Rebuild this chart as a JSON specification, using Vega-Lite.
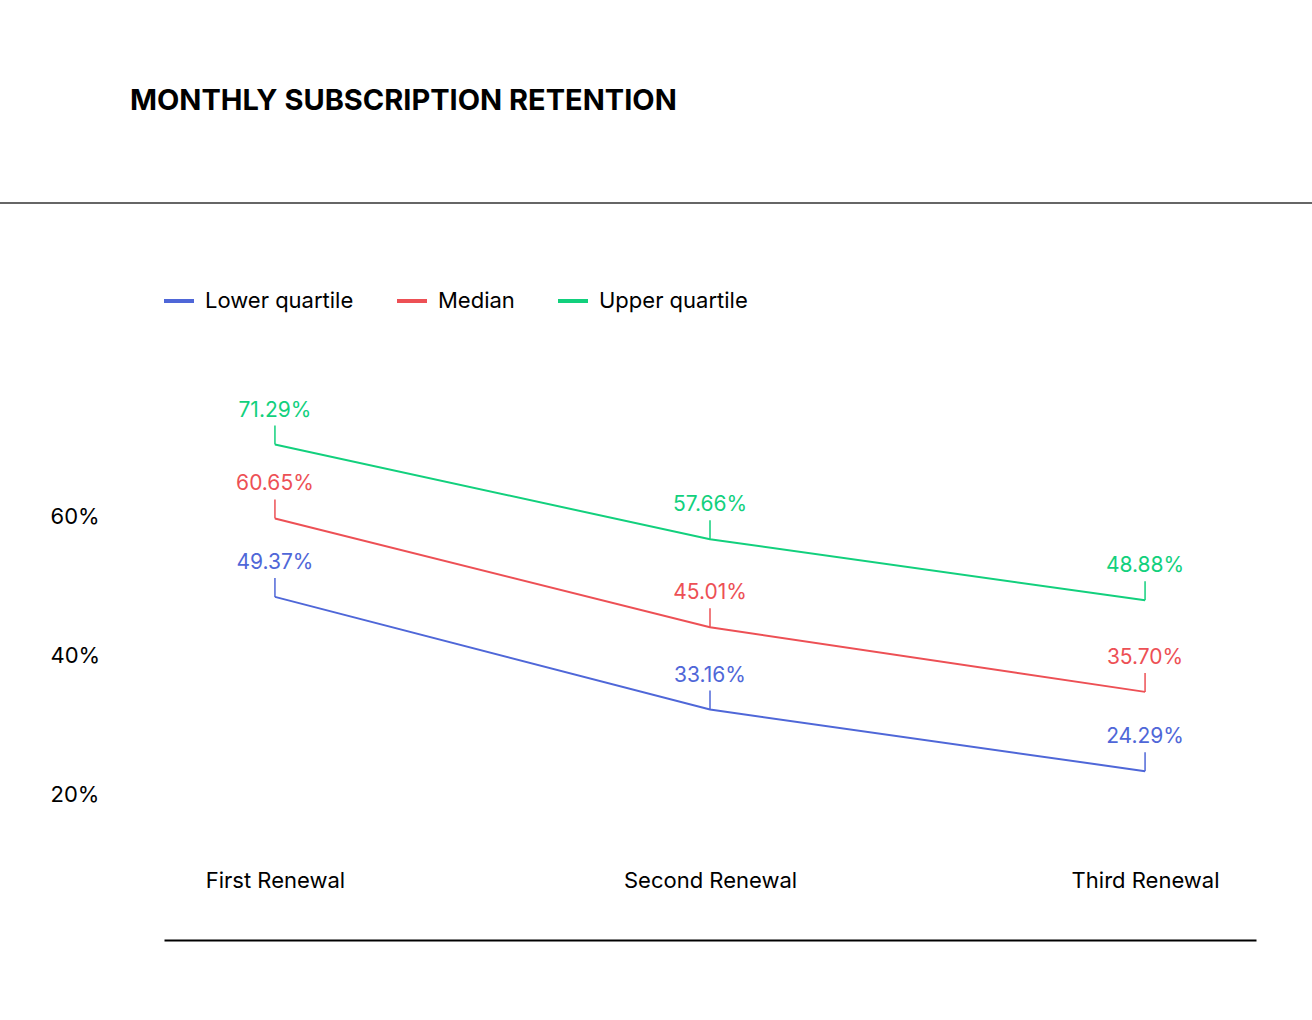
{
  "$schema": "https://vega.github.io/schema/vega-lite/v6.json",
  "autosize": {"type": "none"},
  "padding": {"left": 164, "top": 384, "right": 56, "bottom": 80},
  "width": 1092,
  "height": 556,
  "background": "white",
  "config": {
    "font": "Inter",
    "view": {"stroke": null},
    "axis": {"grid": false, "ticks": false, "tickSize": 0, "title": null, "labelFont": "Inter", "labelFontSize": 22, "labelColor": "#000"},
    "legend": {"padding": 0, "labelFont": "Inter", "labelFontSize": 22, "labelColor": "#000", "symbolType": "stroke", "symbolSize": 900, "symbolStrokeWidth": 4, "labelOffset": 9, "columnPadding": 35}
  },
  "title": {
    "text": "MONTHLY SUBSCRIPTION RETENTION",
    "anchor": "start",
    "frame": "group",
    "offset": 86,
    "dx": -34,
    "fontSize": 29,
    "font": "Inter",
    "fontWeight": "bold",
    "color": "#000"
  },
  "resolve": {"scale": {"x": "independent"}, "axis": {"x": "independent"}},
  "data": {
    "values": [
      {"stage": "First Renewal", "series": "Lower quartile", "value": 0.4937},
      {"stage": "First Renewal", "series": "Median", "value": 0.6065},
      {"stage": "First Renewal", "series": "Upper quartile", "value": 0.7129},
      {"stage": "Second Renewal", "series": "Lower quartile", "value": 0.3316},
      {"stage": "Second Renewal", "series": "Median", "value": 0.4501},
      {"stage": "Second Renewal", "series": "Upper quartile", "value": 0.5766},
      {"stage": "Third Renewal", "series": "Lower quartile", "value": 0.2429},
      {"stage": "Third Renewal", "series": "Median", "value": 0.3570},
      {"stage": "Third Renewal", "series": "Upper quartile", "value": 0.4888}
    ]
  },
  "encoding": {
    "x": {
      "field": "stage",
      "type": "nominal",
      "sort": ["First Renewal", "Second Renewal", "Third Renewal"],
      "scale": {"type": "point", "padding": 0.255},
      "axis": {"labelAngle": 0, "labelAlign": "center", "labelBaseline": "alphabetic", "labelPadding": -53, "domain": true, "domainColor": "#000", "domainWidth": 2}
    },
    "y": {
      "field": "value",
      "type": "quantitative",
      "scale": {"domain": [0, 0.8], "nice": false, "zero": false},
      "axis": {"values": [0.2, 0.4, 0.6], "format": ".0%", "domain": false, "labelAlign": "left", "labelBaseline": "alphabetic", "labelPadding": 114}
    },
    "color": {
      "field": "series",
      "type": "nominal",
      "scale": {"domain": ["Lower quartile", "Median", "Upper quartile"], "range": ["#4f67d8", "#ed5055", "#12d07d"]}
    }
  },
  "layer": [
    {
      "layer": [
        {
          "mark": {"type": "line", "strokeWidth": 2},
          "encoding": {
            "color": {
              "field": "series",
              "type": "nominal",
              "legend": {"orient": "none", "direction": "horizontal", "legendX": -2, "legendY": -100, "title": null}
            }
          }
        },
        {
          "mark": {"type": "rule", "strokeWidth": 1.5, "y2Offset": -19},
          "encoding": {
            "y2": {"field": "value"}
          }
        },
        {
          "mark": {"type": "text", "dy": -34, "fontSize": 21, "font": "Inter", "baseline": "middle", "align": "center"},
          "encoding": {
            "text": {"field": "value", "type": "quantitative", "format": ".2%"}
          }
        }
      ]
    },
    {
      "data": {"values": [{"from": -0.1502, "to": 1.0513, "sep": 1.0604}]},
      "mark": {"type": "rule", "color": "#333", "strokeWidth": 1.5},
      "encoding": {
        "x": {"field": "from", "type": "quantitative", "scale": {"domain": [0, 1], "nice": false, "zero": false}, "axis": null},
        "x2": {"field": "to"},
        "color": null,
        "y": {"field": "sep", "type": "quantitative"}
      }
    }
  ]
}
